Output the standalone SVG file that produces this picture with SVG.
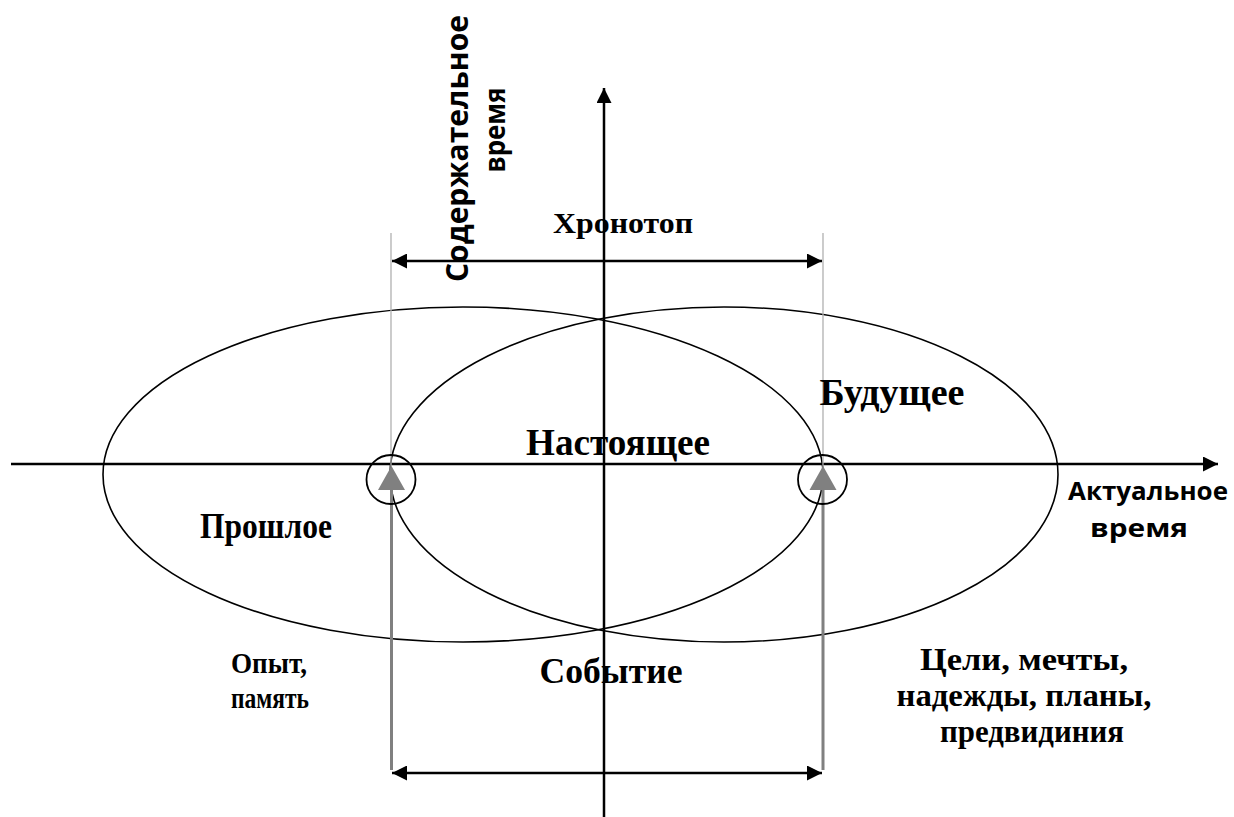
<svg xmlns="http://www.w3.org/2000/svg" width="1234" height="817" viewBox="0 0 1234 817">
<style>
.axis{stroke:#000;stroke-width:2.5;fill:none}
.ell{stroke:#000;stroke-width:1.6;fill:none}
.guide{stroke:#b0b0b0;stroke-width:1.3;fill:none}
.garrow{stroke:#808080;stroke-width:3;fill:none}
.ring{stroke:#000;stroke-width:1.8;fill:none}
.serif{font-family:"Liberation Serif","Times New Roman",serif;font-weight:bold;fill:#000;text-anchor:middle}
.sans{font-family:"Open Sans","Liberation Sans",Arial,sans-serif;font-weight:bold;fill:#000}
</style>
<defs>
<marker id="ah" viewBox="0 0 10 10" refX="10" refY="5" markerWidth="6.5" markerHeight="6" markerUnits="strokeWidth" orient="auto-start-reverse">
<path d="M0,0 L10,5 L0,10 z" fill="#000"/>
</marker>
</defs>
<rect width="1234" height="817" fill="#fff"/>
<g id="ellipses">
<ellipse id="past-ellipse" class="ell" cx="463" cy="474.5" rx="360" ry="167.5"/>
<ellipse id="future-ellipse" class="ell" cx="724" cy="474.5" rx="334" ry="167.5"/>
</g>
<g id="connectors">
<line class="axis" x1="11" y1="464" x2="1218" y2="464" marker-end="url(#ah)"/>
<line class="axis" x1="604" y1="817" x2="604" y2="88" marker-end="url(#ah)"/>
<line class="guide" x1="391" y1="233" x2="391" y2="770"/>
<line class="guide" x1="823" y1="233" x2="823" y2="770"/>
<line class="axis" x1="392" y1="261" x2="822" y2="261" marker-start="url(#ah)" marker-end="url(#ah)"/>
<line class="axis" x1="392" y1="773" x2="822" y2="773" marker-start="url(#ah)" marker-end="url(#ah)"/>
<line class="garrow" x1="391.5" y1="770" x2="391.5" y2="488"/>
<polygon points="378,490 405,490 391.5,466" fill="#808080"/>
<line class="garrow" x1="823" y1="770" x2="823" y2="488"/>
<polygon points="809.5,490 836.5,490 823,466" fill="#808080"/>
</g>
<g id="event-left"><circle class="ring" cx="391" cy="479.5" r="24.5"/></g>
<g id="event-right"><circle class="ring" cx="822.5" cy="479.5" r="24.5"/></g>
<g id="label-content-time">
<text class="sans" transform="translate(468,282) rotate(-90)" font-size="31" textLength="267" lengthAdjust="spacingAndGlyphs">Содержательное</text>
<text class="sans" transform="translate(505,130) rotate(-90)" font-size="28" text-anchor="middle" textLength="85" lengthAdjust="spacingAndGlyphs">время</text>
</g>
<g id="label-actual-time">
<text class="sans" x="1148" y="500" font-size="25" text-anchor="middle" textLength="160" lengthAdjust="spacingAndGlyphs">Актуальное</text>
<text class="sans" x="1139" y="537" font-size="25" text-anchor="middle" textLength="98" lengthAdjust="spacingAndGlyphs">время</text>
</g>
<g id="label-chronotope"><text class="serif" x="623" y="233" font-size="29" textLength="140" lengthAdjust="spacingAndGlyphs">Хронотоп</text></g>
<g id="label-future"><text class="serif" x="892" y="405" font-size="37" textLength="145" lengthAdjust="spacingAndGlyphs">Будущее</text></g>
<g id="label-present"><text class="serif" x="618" y="455" font-size="37" textLength="184" lengthAdjust="spacingAndGlyphs">Настоящее</text></g>
<g id="label-past"><text class="serif" x="266" y="538" font-size="36" textLength="132" lengthAdjust="spacingAndGlyphs">Прошлое</text></g>
<g id="label-event"><text class="serif" x="611" y="683" font-size="35" textLength="143" lengthAdjust="spacingAndGlyphs">Событие</text></g>
<g id="label-experience">
<text class="serif" x="269" y="673" font-size="29" textLength="76" lengthAdjust="spacingAndGlyphs">Опыт,</text>
<text class="serif" x="270" y="708" font-size="29" textLength="78" lengthAdjust="spacingAndGlyphs">память</text>
</g>
<g id="label-goals">
<text class="serif" x="1024" y="670" font-size="31" textLength="208" lengthAdjust="spacingAndGlyphs">Цели, мечты,</text>
<text class="serif" x="1024" y="706" font-size="31" textLength="255" lengthAdjust="spacingAndGlyphs">надежды, планы,</text>
<text class="serif" x="1032" y="742" font-size="31" textLength="184" lengthAdjust="spacingAndGlyphs">предвидиния</text>
</g>
</svg>
